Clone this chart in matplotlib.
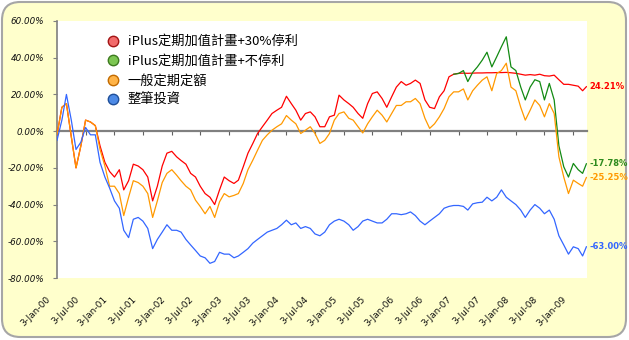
import matplotlib
matplotlib.use('Agg')
import matplotlib.pyplot as plt
import matplotlib.transforms as mtransforms
from matplotlib.patches import FancyBboxPatch
from matplotlib.lines import Line2D
import pandas as pd

# 月資料: 2000/01/03 起每月一點, 最後一點為 2009/03/27
start_day = '2000-01-03'
last_day = '2009-03-27'
n_months = 111

# 整筆投資 報酬率(%)
blue = [-5, 6, 20, 6, -10, -6, 2, -2, -2, -17,
        -25, -31, -38, -42, -54, -58, -48, -47, -49, -53,
        -64, -59, -55, -51, -54, -54, -55, -59, -62, -65,
        -68, -69, -72, -71, -66, -67, -67, -69, -68, -66,
        -64, -61, -59, -57, -55, -54, -53, -51, -48.5, -51,
        -50, -53, -52, -53, -56, -57, -55, -51, -49, -48,
        -49, -51, -54, -52, -49, -48, -49, -50, -50, -48,
        -45, -45, -45.5, -45, -44, -46, -49, -51, -49, -47,
        -45, -42, -41, -40.5, -40.5, -41, -43, -39.6, -39, -38.7,
        -36, -38, -36, -32, -36, -38, -40, -43, -47, -43,
        -40, -42, -45, -43, -48, -57, -62, -67, -63, -64, -68,
        -63.00]

# iPlus定期加值計畫+30%停利
red = [-2, 13, 15, -3, -20, -8, 6, 5, 3, -8,
       -17, -22, -25, -21, -32, -27, -18, -19, -21, -25,
       -38, -30, -19, -12, -11, -14, -16, -18, -23, -25,
       -30, -34, -36, -40, -32, -25, -27, -28.5, -26.7, -19.4,
       -12, -6.7, -1.3, 2.4, 6, 9.6, 11.4, 13, 19, 15,
       11.4, 6, 9.6, 10.5, 7.8, 2.4, 2.4, 7.8, 8.7, 19.6,
       17, 15, 13, 9.6, 7, 15, 20.5, 21.4, 17.8, 13,
       18.7, 24, 27, 25, 26, 27.8, 26, 17, 13, 12.3,
       18.7, 22, 29.6, 31, 31.5, 31.6, 31.5, 31.6, 31.7, 31.7,
       31.8, 31.8, 31.9, 31.9, 32, 31.8, 31.5, 31, 30.5, 30.8,
       30.5, 31, 30.2, 30, 30.5, 28, 25.5, 25.5, 25, 24.5, 22,
       24.21]

# 一般定期定額
orange = [-2, 13, 15, -3, -20, -8, 6, 5, 3, -10,
          -19, -30, -30, -34, -46, -36, -27, -28, -30, -34,
          -47, -38, -28, -23, -21, -24, -27, -30, -32, -37.6,
          -41, -45, -41, -47, -38.5, -34, -35.8, -35, -34, -28.5,
          -21, -15.8, -10.4, -5, -2, 0.5, 2.4, 4, 8.5, 6,
          4, -1.3, 0.5, 2.4, -1.3, -6.7, -5, -1.3, 6, 9.6,
          10.5, 7, 6, 2.4, -1, 4, 7.8, 11.4, 8.7, 5,
          9.6, 14, 14, 16, 16, 17.8, 15, 7, 1.5, 4,
          7.8, 12.3, 18.7, 21.4, 21.4, 23, 17, 22, 25, 27.8,
          29.6, 22, 31.4, 33, 37, 24, 22, 13, 6, 11.4,
          17, 14, 7.8, 15, 9.6, -14, -25, -34, -26.7, -28.5, -30,
          -25.25]

# iPlus定期加值計畫+不停利 (與停利版本分開後, 2006/12 起)
green_from = 83
green = [31, 31.4, 33, 27, 32, 35, 38.7,
         43, 35, 40.5, 46, 51.4, 35, 33, 24, 17, 24,
         28, 27, 17, 26, 17, -8, -19.4, -25, -17.6, -21, -23,
         -17.78]

labels = ['iPlus定期加值計畫+30%停利', 'iPlus定期加值計畫+不停利', '一般定期定額', '整筆投資']
line_colors = ['#FF0000', '#138A13', '#FF9900', '#3366FF']
dot_faces = ['#F26B6B', '#7CC652', '#FFB347', '#4D8AE6']
dot_edges = ['#A31515', '#3D7A1F', '#C26A00', '#1F4F99']
end_colors = ['#FF0000', '#2E8B1E', '#FF9900', '#3366FF']

dates = list(pd.date_range(start_day, periods=n_months, freq=pd.DateOffset(months=1)))
dates.append(pd.Timestamp(last_day))
dates = [d.to_pydatetime() for d in dates]

fig = plt.figure(figsize=(6.29, 3.40), dpi=100)
fig.patch.set_facecolor('white')

# 外框 (淡黃底圓角)
frame = FancyBboxPatch((2 / 629, 3 / 340), 624 / 629, 335 / 340,
                       boxstyle='round,pad=0,rounding_size=0.029',
                       mutation_aspect=629 / 340,
                       transform=fig.transFigure, facecolor='#FFFFCC',
                       edgecolor='#A6A6A6', linewidth=1.5, zorder=-10)
fig.patches.append(frame)

ax = fig.add_axes([57 / 629, 62 / 340, 530 / 629, 257 / 340])
ax.set_facecolor('white')
ax.set_zorder(1)

ax.plot(dates, red, color=line_colors[0], lw=0.9, zorder=3)
ax.plot(dates[green_from:], green, color=line_colors[1], lw=0.9, zorder=4)
ax.plot(dates, orange, color=line_colors[2], lw=0.9, zorder=5)
ax.plot(dates, blue, color=line_colors[3], lw=0.9, zorder=6)

ax.set_xlim(dates[0], pd.Timestamp('2009-03-31').to_pydatetime())
ax.set_ylim(-80, 60)

# 座標軸
for s in ['right', 'bottom']:
    ax.spines[s].set_visible(False)
ax.spines['left'].set_color('#7F7F7F')
ax.spines['left'].set_linewidth(1.2)
ax.spines['top'].set_position(('data', 0))
ax.spines['top'].set_color('#808080')
ax.spines['top'].set_linewidth(1.6)
ax.spines['top'].set_zorder(2)

yt = list(range(-80, 61, 20))
ax.set_yticks(yt)
ax.set_yticklabels(['%.2f%%' % v for v in yt])
ax.tick_params(axis='y', direction='out', length=3, pad=6, color='#7F7F7F',
               labelsize=6.3, labelcolor='#111111')
for lab in ax.get_yticklabels():
    lab.set_fontstyle('italic')

xt = pd.date_range('2000-01-03', '2009-01-03', freq=pd.DateOffset(months=6))
ax.set_xticks([d.to_pydatetime() for d in xt])
ax.set_xticklabels(['%d-%s' % (d.day, d.strftime('%b-%y')) for d in xt],
                   rotation=45, ha='right', va='center', rotation_mode='anchor')
ax.tick_params(axis='x', bottom=False, top=True, labelbottom=True, labeltop=False,
               direction='in', length=3, color='#606060', pad=14.5,
               labelsize=6.5, labelcolor='#111111')
shift = mtransforms.ScaledTranslation(-8 / 100, 0, fig.dpi_scale_trans)
for lab in ax.get_xticklabels():
    lab.set_transform(lab.get_transform() + shift)

# 圖例
handles = [Line2D([], [], ls='none', marker='o', ms=7.5, mfc=f, mec=e, mew=1.0)
           for f, e in zip(dot_faces, dot_edges)]
ax.legend(handles, labels, loc='upper left', bbox_to_anchor=(0.0925, 0.945),
          frameon=False, prop={'family': ['Noto Sans CJK TC', 'DejaVu Sans'], 'size': 9.5},
          handlelength=1.0, handletextpad=0.64, labelspacing=0.5,
          borderpad=0, borderaxespad=0)

# 期末報酬率標示
ends = [(red[-1], 0), (green[-1], 1), (orange[-1], 2), (blue[-1], 3)]
for val, i in ends:
    ax.annotate('%.2f%%' % val, xy=(dates[-1], val), xytext=(2.5, 0),
                textcoords='offset points', ha='left', va='center',
                fontsize=6, fontweight='bold', color=end_colors[i],
                annotation_clip=False)

fig.savefig('out.png', dpi=100)
